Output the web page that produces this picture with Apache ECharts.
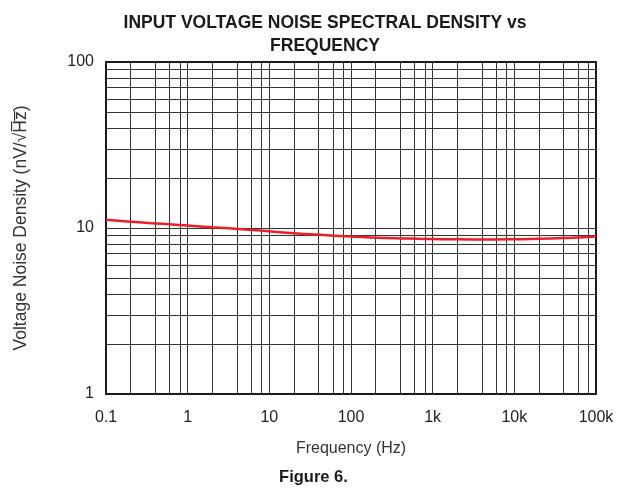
<!DOCTYPE html>
<html>
<head>
<meta charset="utf-8">
<script src="https://cdn.jsdelivr.net/npm/echarts@6/dist/echarts.min.js"></script>
<style>
  html, body { margin: 0; padding: 0; background: #fff; }
  #chart { width: 627px; height: 494px; }
</style>
</head>
<body>
<div id="chart"></div>
<script>
// frequency points (Hz) and noise density (nV/rtHz)
var freqs = [0.1, 0.2, 0.5, 1, 2, 5, 10, 20, 50, 100, 200, 500, 1000, 2000, 5000, 10000, 20000, 50000, 100000];
var noise = [11.2, 10.9, 10.6, 10.35, 10.1, 9.8, 9.55, 9.3, 9.05, 8.88, 8.75, 8.65, 8.58, 8.55, 8.53, 8.55, 8.6, 8.75, 8.9];

var xTicks = [0.1, 1, 10, 100, 1000, 10000, 100000];
var xTickLabels = ['0.1', '1', '10', '100', '1k', '10k', '100k'];
var yTicks = [1, 10, 100];
// the x grid only has 2,4,6,8 between decades, y has 2..9
var xMult = [1, 2, 4, 6, 8];
var yMult = [1, 2, 3, 4, 5, 6, 7, 8, 9];

var gridLines = [];
xTicks.forEach(function (d, i) {
    if (i === xTicks.length - 1) return;
    xMult.forEach(function (m) {
        if (i === 0 && m === 1) return;
        gridLines.push({ xAxis: +(d * m).toPrecision(6) });
    });
});
yTicks.forEach(function (d, i) {
    if (i === yTicks.length - 1) return;
    yMult.forEach(function (m) {
        if (i === 0 && m === 1) return;
        gridLines.push({ yAxis: d * m });
    });
});

var chart = echarts.init(document.getElementById('chart'));
var font = 'Liberation Sans, Arial, Helvetica, sans-serif';

chart.setOption({
    backgroundColor: '#fff',
    animation: false,
    title: {
        text: 'INPUT VOLTAGE NOISE SPECTRAL DENSITY vs\nFREQUENCY',
        left: 320,
        top: 7,
        textAlign: 'center',
        textStyle: {
            fontFamily: font,
            fontWeight: 'bold',
            fontSize: 17.5,
            lineHeight: 23,
            color: '#1a1a1a'
        }
    },
    grid: {
        left: 106,
        right: 31,
        top: 62,
        bottom: 100,
        show: true,
        borderColor: '#1a1a1a',
        borderWidth: 2,
        backgroundColor: 'transparent'
    },
    xAxis: {
        type: 'log',
        logBase: 10,
        min: 0.1,
        max: 100000,
        name: 'Frequency (Hz)',
        nameLocation: 'middle',
        nameGap: 47,
        nameTextStyle: { fontFamily: font, fontSize: 16, color: '#333' },
        axisLine: { show: false },
        axisTick: { show: false },
        splitLine: { show: false },
        axisLabel: {
            fontFamily: font,
            fontSize: 16,
            color: '#222',
            margin: 16,
            formatter: function (v) {
                var i = xTicks.findIndex(function (t) { return Math.abs(t - v) / t < 1e-6; });
                return i >= 0 ? xTickLabels[i] : '';
            }
        }
    },
    yAxis: {
        type: 'log',
        logBase: 10,
        min: 1,
        max: 100,
        name: 'Voltage Noise Density (nV/\u221AH\u0305z\u0305)',
        nameLocation: 'middle',
        nameGap: 76,
        nameTextStyle: { fontFamily: font, fontSize: 17.5, color: '#333' },
        axisLine: { show: false },
        axisTick: { show: false },
        splitLine: { show: false },
        axisLabel: {
            fontFamily: font,
            fontSize: 16,
            color: '#222',
            margin: 12
        }
    },
    graphic: [{
        type: 'text',
        left: 'center',
        top: 469,
        style: {
            text: 'Figure 6.',
            fontFamily: font,
            fontSize: 16.5,
            fontWeight: 'bold',
            fill: '#1a1a1a'
        }
    }],
    series: [{
        type: 'line',
        data: freqs.map(function (f, i) { return [f, noise[i]]; }),
        smooth: true,
        showSymbol: false,
        lineStyle: { color: '#e8202a', width: 2.5 },
        z: 5,
        markLine: {
            silent: true,
            symbol: 'none',
            animation: false,
            label: { show: false },
            lineStyle: { color: '#333', width: 1, type: 'solid' },
            data: gridLines
        }
    }]
});
</script>
</body>
</html>
